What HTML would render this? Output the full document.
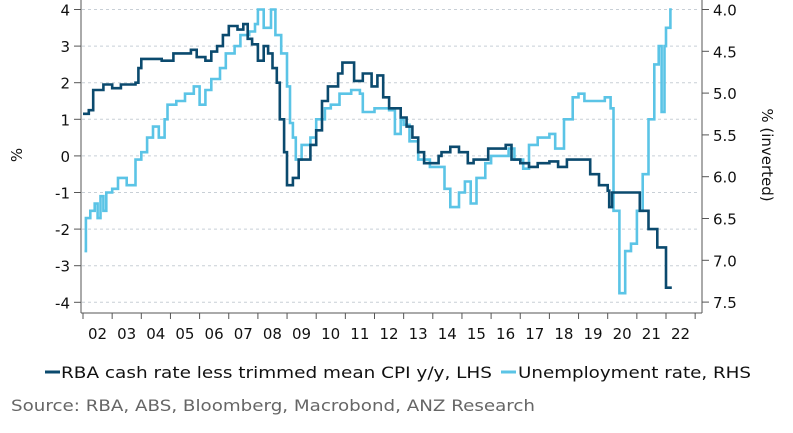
<!DOCTYPE html>
<html><head><meta charset="utf-8"><style>
body{margin:0;background:#fff;width:793px;height:429px;overflow:hidden;font-family:"DejaVu Sans","Liberation Sans",sans-serif}
</style></head><body>
<svg id="s" width="793" height="429" xmlns="http://www.w3.org/2000/svg" font-family="DejaVu Sans, Liberation Sans, sans-serif">
</svg>
<script>
const s=document.getElementById('s');
let h='';
const yL=v=>9.5+(4-v)*36.6;
const yR=u=>9.5+(u-4)*83.6;
const xY=t=>83+29.15*(t-2002);
for(let v=-4;v<=4;v++){h+=`<line x1="82" x2="700" y1="${yL(v)}" y2="${yL(v)}" stroke="#c8cfd6" stroke-dasharray="3,3"/>`;
h+=`<line x1="74" x2="81" y1="${yL(v)}" y2="${yL(v)}" stroke="#555"/>`;
h+=`<text x="70" y="${yL(v)+6}" font-size="15" text-anchor="end" fill="#111">${v}</text>`;}
for(let u=4;u<=7.51;u+=0.5){h+=`<line x1="702" x2="709" y1="${yR(u)}" y2="${yR(u)}" stroke="#555"/>`;
h+=`<text x="713" y="${yR(u)+6}" font-size="15" fill="#111">${u.toFixed(1)}</text>`;}
h+=`<line x1="81" x2="81" y1="0" y2="313" stroke="#555"/><line x1="702" x2="702" y1="0" y2="313" stroke="#555"/><line x1="81" x2="702" y1="313" y2="313" stroke="#555"/>`;
for(let k=2;k<=23;k++){const x=xY(2000+k);h+=`<line x1="${x}" x2="${x}" y1="313" y2="319" stroke="#555"/>`;
if(k<=22)h+=`<text x="${x+14.5}" y="339" font-size="15" text-anchor="middle" fill="#111">${String(k).padStart(2,'0')}</text>`;}
h+=`<text transform="translate(22,155) rotate(-90)" font-size="15" text-anchor="middle" fill="#111">%</text>`;
h+=`<text transform="translate(762,155) rotate(90)" font-size="15" text-anchor="middle" fill="#111">% (inverted)</text>`;
function step(d){let p=[];for(let i=0;i<d.length;i+=2){const x=xY(d[i]),y=yL(d[i+1]);if(p.length)p.push(x.toFixed(1)+','+p[p.length-1].split(',')[1]);p.push(x.toFixed(1)+','+y.toFixed(1));}return p.join(' ');}
const dark=[2002.0,1.15,2002.2,1.25,2002.35,1.8,2002.7,1.95,2003.0,1.85,2003.3,1.95,2003.8,2.0,2003.9,2.4,2004.0,2.65,2004.7,2.6,2005.1,2.8,2005.7,2.9,2005.9,2.7,2006.2,2.6,2006.4,2.85,2006.6,3.0,2006.8,3.3,2007.0,3.55,2007.3,3.45,2007.5,3.6,2007.65,3.2,2007.8,3.05,2008.0,2.6,2008.2,3.0,2008.35,2.8,2008.5,2.4,2008.65,2.0,2008.75,1.0,2008.9,0.1,2009.0,-0.8,2009.2,-0.6,2009.4,-0.1,2009.8,0.3,2010.0,0.7,2010.2,1.5,2010.4,1.9,2010.75,2.25,2010.9,2.55,2011.3,2.05,2011.6,2.25,2011.9,1.9,2012.1,2.2,2012.3,1.6,2012.5,1.3,2012.9,1.05,2013.1,0.8,2013.3,0.5,2013.5,0.1,2013.7,-0.2,2014.2,0.0,2014.3,0.1,2014.6,0.25,2014.9,0.1,2015.2,-0.2,2015.4,-0.1,2015.9,0.2,2016.5,0.3,2016.7,-0.1,2017.0,-0.2,2017.3,-0.3,2017.6,-0.2,2018.0,-0.15,2018.3,-0.3,2018.6,-0.1,2019.2,-0.1,2019.4,-0.5,2019.7,-0.8,2020.0,-0.95,2020.05,-1.4,2020.15,-1.0,2021.1,-1.5,2021.4,-2.0,2021.7,-2.5,2022.0,-3.6,2022.2,-3.6];
const light=[2002.05,-2.6,2002.1,-1.7,2002.25,-1.5,2002.4,-1.3,2002.5,-1.7,2002.6,-1.1,2002.7,-1.5,2002.8,-1.0,2003.0,-0.9,2003.2,-0.6,2003.5,-0.8,2003.8,-0.1,2004.0,0.1,2004.2,0.5,2004.4,0.8,2004.6,0.5,2004.8,1.0,2004.9,1.4,2005.2,1.5,2005.5,1.7,2005.8,1.9,2006.0,1.4,2006.2,1.8,2006.4,2.1,2006.7,2.4,2006.9,2.8,2007.2,3.0,2007.4,3.3,2007.7,3.4,2007.9,3.6,2008.0,4.0,2008.2,3.5,2008.45,4.0,2008.6,3.3,2008.8,2.8,2009.0,1.9,2009.1,0.9,2009.2,0.5,2009.3,-0.1,2009.5,0.3,2009.8,0.5,2010.0,1.0,2010.3,1.3,2010.5,1.4,2010.8,1.7,2011.2,1.8,2011.5,1.7,2011.6,1.2,2012.0,1.3,2012.5,1.25,2012.7,0.6,2012.9,1.0,2013.0,0.85,2013.2,0.4,2013.5,-0.1,2013.9,-0.3,2014.2,-0.3,2014.4,-0.9,2014.6,-1.4,2014.9,-1.0,2015.1,-0.7,2015.3,-1.3,2015.5,-0.6,2015.8,-0.2,2016.0,0.0,2016.6,0.2,2016.8,-0.1,2017.1,-0.35,2017.3,0.3,2017.6,0.5,2018.0,0.6,2018.2,0.2,2018.5,1.0,2018.8,1.6,2019.0,1.7,2019.2,1.5,2019.6,1.5,2019.9,1.6,2020.1,1.3,2020.2,-1.5,2020.4,-3.75,2020.6,-2.6,2020.8,-2.4,2021.0,-1.5,2021.2,-0.5,2021.4,1.0,2021.6,2.5,2021.75,3.0,2021.85,1.2,2021.95,3.0,2022.0,3.5,2022.15,4.0,2022.2,4.0];
h+=`<polyline points="${step(light)}" fill="none" stroke="#5bc4e6" stroke-width="2.6"/>`;
h+=`<polyline points="${step(dark)}" fill="none" stroke="#0b4a6e" stroke-width="2.6"/>`;
h+=`<line x1="45" x2="60" y1="372" y2="372" stroke="#0b4a6e" stroke-width="3"/><text x="61" y="378" font-size="16" fill="#111" textLength="431" lengthAdjust="spacingAndGlyphs">RBA cash rate less trimmed mean CPI y/y, LHS</text>`;
h+=`<line x1="501" x2="516" y1="372" y2="372" stroke="#5bc4e6" stroke-width="3"/><text x="518" y="378" font-size="16" fill="#111" textLength="233" lengthAdjust="spacingAndGlyphs">Unemployment rate, RHS</text>`;
h+=`<text x="11" y="411" font-size="16" fill="#666" textLength="524" lengthAdjust="spacingAndGlyphs">Source: RBA, ABS, Bloomberg, Macrobond, ANZ Research</text>`;
s.innerHTML=h;
</script>
</body></html>
